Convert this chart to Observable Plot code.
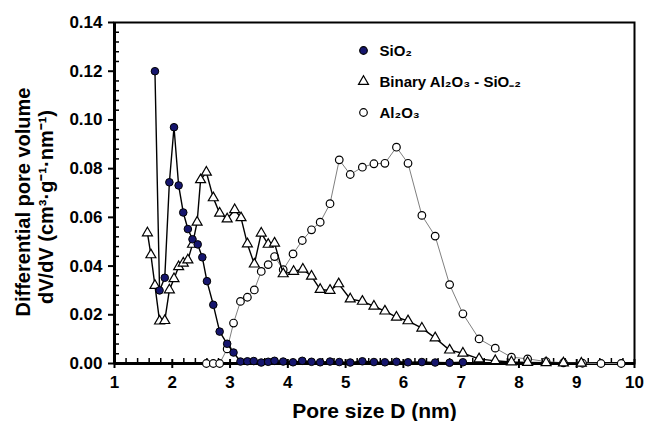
<!DOCTYPE html>
<html><head><meta charset="utf-8">
<script src="https://cdn.jsdelivr.net/npm/d3@7"></script>
<script src="https://cdn.jsdelivr.net/npm/@observablehq/plot@0.6"></script>
<style>
html,body{margin:0;padding:0;background:#fff;}
#chart svg{display:block;}
</style></head><body><div id="chart"></div>
<script>
// ---- data ----
const sio2X = [1.70, 1.78, 1.87, 1.95, 2.03, 2.11, 2.19, 2.27, 2.35, 2.44, 2.52, 2.60, 2.71, 2.82, 2.95, 3.06,
  3.18, 3.30, 3.41, 3.54, 3.66, 3.77, 3.92, 4.09, 4.25, 4.41, 4.56, 4.73, 4.89, 5.08, 5.29, 5.49, 5.68, 5.88, 6.08, 6.32, 6.55, 6.80, 7.03];
const sio2Y = [0.120, 0.030, 0.0352, 0.0744, 0.097, 0.0731, 0.062, 0.0552, 0.051, 0.0489, 0.0436, 0.0338, 0.0241, 0.0131, 0.0081, 0.0045,
  0.0008, 0.0009, 0.0010, 0.0004, 0.0007, 0.0011, 0.0008, 0.0005, 0.0011, 0.0007, 0.0005, 0.0008, 0.0006, 0.0004, 0.0009, 0.0006, 0.0005, 0.0007, 0.0005, 0.0006, 0.0004, 0.0003, 0.0005];

const binX = [1.57, 1.63, 1.70, 1.78, 1.87, 1.95, 2.03, 2.11, 2.19, 2.27, 2.35, 2.43, 2.49, 2.59, 2.71, 2.82, 2.95, 3.08, 3.19, 3.30,
  3.42, 3.54, 3.66, 3.77, 3.92, 4.10, 4.26, 4.41, 4.56, 4.73, 4.88, 5.08, 5.29, 5.49, 5.68, 5.88, 6.08, 6.32, 6.55, 6.80, 7.03,
  7.31, 7.59, 7.87, 8.15, 8.47, 8.77, 9.08];
const binY = [0.0536, 0.0446, 0.032, 0.0174, 0.0176, 0.0302, 0.0348, 0.0397, 0.0412, 0.0425, 0.0489, 0.058, 0.0754, 0.0785, 0.068, 0.0617, 0.0593, 0.0631, 0.0598, 0.0491,
  0.0408, 0.0535, 0.0489, 0.0494, 0.0368, 0.0378, 0.0387, 0.0358, 0.0304, 0.030, 0.0327, 0.0265, 0.0255, 0.0235, 0.0215, 0.019, 0.0175, 0.0145, 0.0105, 0.0055, 0.0042,
  0.0019, 0.0011, 0.0006, 0.0004, 0.0003, 0.0002, 0.0001];

const alX = [2.59, 2.71, 2.82, 2.95, 3.06, 3.18, 3.30, 3.42, 3.54, 3.66, 3.77, 3.92, 4.09, 4.25, 4.41, 4.56, 4.73, 4.89, 5.08, 5.29,
  5.49, 5.68, 5.88, 6.08, 6.32, 6.55, 6.80, 7.03, 7.31, 7.59, 7.87, 8.15, 8.47, 8.77, 9.10, 9.42, 9.77];
const alY = [0, 0, 0, 0.006, 0.0166, 0.0255, 0.0272, 0.0302, 0.0378, 0.0406, 0.0439, 0.0385, 0.045, 0.0505, 0.0549, 0.058, 0.0656, 0.0836, 0.0776, 0.0806,
  0.082, 0.0822, 0.0888, 0.0822, 0.0608, 0.0523, 0.0324, 0.0204, 0.0101, 0.0063, 0.0026, 0.0019, 0.0008, 0.0003, 0.0001, 0, 0];

const seriesNames = ["SiO₂", "Binary Al₂O₃ - SiO₋₂", "Al₂O₃"];
const xTicks = [1, 2, 3, 4, 5, 6, 7, 8, 9, 10];
const yTicks = [0, 0.02, 0.04, 0.06, 0.08, 0.10, 0.12, 0.14];
const xTitle = "Pore size D (nm)";
const yTitle1 = "Differential pore volume";
const yTitle2 = "dV/dV (cm³·g⁻¹·nm⁻¹)";

// ---- layout ----
const W = 646, H = 421, mL = 114, mR = 12, mT = 22, mB = 58;
const FW = W - mL - mR, FH = H - mT - mB;
const FONT = "'Liberation Sans', Arial, Helvetica, sans-serif";
const NAVY = "#16166e";

const rows = (xs, ys) => xs.map((x, i) => ({x, y: ys[i]}));
const sio2 = rows(sio2X, sio2Y), binary = rows(binX, binY), alumina = rows(alX, alY);

const xMinor = d3.range(1, 10.0001, 0.2).filter(v => Math.abs(v - Math.round(v)) > 1e-6);
const yMinor = d3.range(0, 0.1401, 0.004).filter(v => Math.abs(v / 0.02 - Math.round(v / 0.02)) > 1e-6);

const legendStyles = [
  {symbol: "circle", fill: NAVY, r: 3.8},
  {symbol: "triangle", fill: "white", r: 3.7},
  {symbol: "circle", fill: "white", r: 3.8}
];
const legendMarks = seriesNames.flatMap((name, i) => [
  Plot.dot([name], {frameAnchor: "top-left", dx: 249, dy: 28 + i * 31, symbol: legendStyles[i].symbol,
    r: legendStyles[i].r, fill: legendStyles[i].fill, stroke: "black", strokeWidth: 1.2}),
  Plot.text([name], {frameAnchor: "top-left", dx: 265, dy: 29 + i * 31, text: d => d, textAnchor: "start",
    lineAnchor: "middle", fontSize: 15, fontWeight: "bold", fill: "black"})
]);

const plot = Plot.plot({
  width: W, height: H,
  marginLeft: mL, marginRight: mR, marginTop: mT, marginBottom: mB,
  x: {domain: [1, 10]},
  y: {domain: [0, 0.14]},
  style: {fontFamily: FONT, fontWeight: "bold", background: "white", color: "black", overflow: "visible"},
  marks: [
    // thin box
    Plot.frame({stroke: "black", strokeWidth: 2}),
    // minor ticks pointing inward
    Plot.tickY(yMinor, {y: d => d, insetRight: FW - 5, stroke: "black", strokeWidth: 1.5}),
    Plot.tickX(xMinor, {x: d => d, insetTop: FH - 5, stroke: "black", strokeWidth: 1.5}),
    // major x ticks crossing the axis
    Plot.tickX(xTicks, {x: d => d, insetTop: FH - 4, insetBottom: -5, stroke: "black", strokeWidth: 2}),
    // axes with labels
    Plot.axisY(yTicks, {anchor: "left", tickSize: 6, tickPadding: 6, tickFormat: d3.format(".2f"),
      fontSize: 17, strokeWidth: 2, label: null}),
    Plot.axisX(xTicks, {anchor: "bottom", tickSize: 0, tickPadding: 12, fontSize: 17, label: null}),
    // thick left/bottom axis lines
    Plot.ruleX([1], {stroke: "black", strokeWidth: 3}),
    Plot.ruleY([0], {stroke: "black", strokeWidth: 3}),
    // series
    Plot.line(alumina, {x: "x", y: "y", stroke: "#808080", strokeWidth: 1}),
    Plot.dot(alumina, {x: "x", y: "y", r: 3.8, fill: "white", stroke: "black", strokeWidth: 1.2}),
    Plot.line(binary, {x: "x", y: "y", stroke: "black", strokeWidth: 1.4}),
    Plot.dot(binary, {x: "x", y: "y", symbol: "triangle", r: 3.7, fill: "white", stroke: "black", strokeWidth: 1.2}),
    Plot.line(sio2, {x: "x", y: "y", stroke: "black", strokeWidth: 1.4}),
    Plot.dot(sio2, {x: "x", y: "y", r: 3.8, fill: NAVY, stroke: "black", strokeWidth: 1}),
    // legend
    ...legendMarks,
    // axis titles
    Plot.text([xTitle], {frameAnchor: "bottom", dy: 48, text: d => d, fontSize: 21, fontWeight: "bold",
      textAnchor: "middle", lineAnchor: "middle", fill: "black"}),
    Plot.text([yTitle1], {frameAnchor: "left", dx: 23 - mL, dy: 9, rotate: -90, text: d => d, fontSize: 20, fontWeight: "bold",
      textAnchor: "middle", lineAnchor: "middle", fill: "black"}),
    Plot.text([yTitle2], {frameAnchor: "left", dx: 46 - mL, dy: 14, rotate: -90, text: d => d, fontSize: 20, fontWeight: "bold",
      textAnchor: "middle", lineAnchor: "middle", fill: "black"})
  ]
});
document.getElementById("chart").appendChild(plot);
</script>
</body></html>
